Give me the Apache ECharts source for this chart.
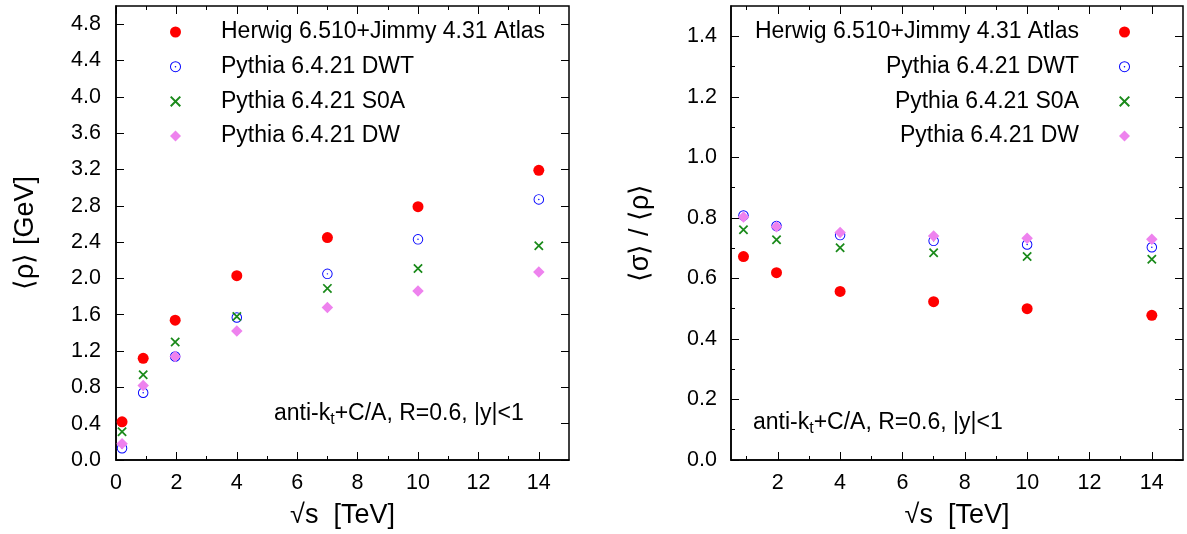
<!DOCTYPE html>
<html><head><meta charset="utf-8">
<script src="https://cdn.jsdelivr.net/npm/echarts@6/dist/echarts.min.js"></script>
<style>html,body{margin:0;padding:0;background:#fff}#c{width:1187px;height:534px}</style>
</head><body><div id="c"></div>
<script>
// ---------- data ----------
const seriesNames = ['Herwig 6.510+Jimmy 4.31 Atlas', 'Pythia 6.4.21 DWT', 'Pythia 6.4.21 S0A', 'Pythia 6.4.21 DW'];
const energiesLeft = [0.2, 0.9, 1.96, 4, 7, 10, 14];
const rhoHerwig = [0.42, 1.12, 1.54, 2.03, 2.45, 2.79, 3.19];
const rhoDWT    = [0.13, 0.74, 1.14, 1.57, 2.05, 2.43, 2.87];
const rhoS0A    = [0.31, 0.94, 1.30, 1.58, 1.89, 2.11, 2.36];
const rhoDW     = [0.18, 0.82, 1.14, 1.42, 1.68, 1.86, 2.07];
const energiesRight = [0.9, 1.96, 4, 7, 10, 14];
const ratioHerwig = [0.672, 0.619, 0.557, 0.523, 0.500, 0.478];
const ratioDWT    = [0.808, 0.773, 0.743, 0.724, 0.712, 0.703];
const ratioS0A    = [0.761, 0.728, 0.701, 0.685, 0.672, 0.663];
const ratioDW     = [0.803, 0.771, 0.752, 0.740, 0.733, 0.729];
const xTicksLeft = [0, 2, 4, 6, 8, 10, 12, 14];
const xMinorLeft = [1, 3, 5, 7, 9, 11, 13];
const xTicksRight = [2, 4, 6, 8, 10, 12, 14];
const xMinorRight = [1, 3, 5, 7, 9, 11, 13];
const yTicksLeft = [0, 0.4, 0.8, 1.2, 1.6, 2.0, 2.4, 2.8, 3.2, 3.6, 4.0, 4.4, 4.8];
const yTicksRight = [0, 0.2, 0.4, 0.6, 0.8, 1.0, 1.2, 1.4];
const yMinorRight = [0.1, 0.3, 0.5, 0.7, 0.9, 1.1, 1.3];
const xTitle = '√s  [TeV]';
const yTitleLeft = '⟨ρ⟩ [GeV]';
const yTitleRight = '⟨σ⟩ / ⟨ρ⟩';
const noteText = ['anti-k', 't', '+C/A, R=0.6, |y|<1'];

// ---------- styles ----------
const FONT = 'Liberation Sans, Arial, Helvetica, sans-serif';
const colors = ['#ff0000', '#0000ff', '#1a8a1a', '#ee82ee'];
const ringPath = 'path://M10,0 A10,10 0 1,1 10,20 A10,10 0 1,1 10,0 Z M10,1.8 A8.2,8.2 0 1,0 10,18.2 A8.2,8.2 0 1,0 10,1.8 Z M10,8.6 A1.4,1.4 0 1,1 10,11.4 A1.4,1.4 0 1,1 10,8.6 Z';
const crossPath = 'path://M0,1.3 L1.3,0 L10,8.7 L8.7,10 Z M8.7,0 L10,1.3 L1.3,10 L0,8.7 Z';
const symbols = ['circle', ringPath, crossPath, 'diamond'];
const sizes = [11, 10.5, 9.5, 11.5];

const grids = [
  {left: 116, top: 6, width: 453, height: 454, show: true, borderColor: '#000', borderWidth: 1.5},
  {left: 731, top: 6, width: 452, height: 454, show: true, borderColor: '#000', borderWidth: 1.5}
];

function axis(grid, pos, min, max, opts) {
  const o = {
    type: 'value', gridIndex: grid, position: pos, min: min, max: max,
    splitLine: {show: false},
    axisLine: {show: !!opts.line, onZero: false, lineStyle: {color: '#000', width: 1.5}},
    axisTick: {show: true, inside: true, length: opts.len, customValues: opts.ticks, lineStyle: {color: '#000', width: 1}},
    axisLabel: {show: false}
  };
  if (opts.labels) {
    o.axisLabel = {show: true, customValues: opts.labels, color: '#000', fontFamily: FONT, fontSize: 21.5,
      margin: opts.margin, formatter: opts.fmt};
  }
  if (opts.name) {
    o.name = opts.name; o.nameLocation = 'middle'; o.nameGap = opts.nameGap;
    o.nameTextStyle = {color: '#000', fontFamily: FONT, fontSize: 27};
  }
  return o;
}
const fmtInt = v => String(Math.round(v));
const fmt1 = v => v.toFixed(1);

const xAxes = [
  axis(0, 'bottom', 0, 15, {line: true, len: 8, ticks: xTicksLeft, labels: xTicksLeft, margin: 12, fmt: fmtInt, name: xTitle, nameGap: 42}),
  axis(0, 'bottom', 0, 15, {len: 4, ticks: xMinorLeft}),
  axis(0, 'top', 0, 15, {len: 8, ticks: xTicksLeft}),
  axis(0, 'top', 0, 15, {len: 4, ticks: xMinorLeft}),
  axis(1, 'bottom', 0.5, 15, {line: true, len: 8, ticks: xTicksRight, labels: xTicksRight, margin: 12, fmt: fmtInt, name: xTitle, nameGap: 42}),
  axis(1, 'bottom', 0.5, 15, {len: 4, ticks: xMinorRight}),
  axis(1, 'top', 0.5, 15, {len: 8, ticks: xTicksRight}),
  axis(1, 'top', 0.5, 15, {len: 4, ticks: xMinorRight})
];
const yAxes = [
  axis(0, 'left', 0, 5, {line: true, len: 8, ticks: yTicksLeft, labels: yTicksLeft, margin: 15, fmt: fmt1, name: yTitleLeft, nameGap: 77}),
  axis(0, 'right', 0, 5, {len: 8, ticks: yTicksLeft}),
  axis(1, 'left', 0, 1.5, {line: true, len: 8, ticks: yTicksRight, labels: yTicksRight, margin: 14, fmt: fmt1, name: yTitleRight, nameGap: 77}),
  axis(1, 'left', 0, 1.5, {len: 4, ticks: yMinorRight}),
  axis(1, 'right', 0, 1.5, {len: 8, ticks: yTicksRight}),
  axis(1, 'right', 0, 1.5, {len: 4, ticks: yMinorRight})
];

function zip(xs, ys) { return xs.map((x, i) => [x, ys[i]]); }
const leftVals = [rhoHerwig, rhoDWT, rhoS0A, rhoDW];
const rightVals = [ratioHerwig, ratioDWT, ratioS0A, ratioDW];
const series = [];
seriesNames.forEach((name, i) => {
  series.push({type: 'scatter', name: name, xAxisIndex: 0, yAxisIndex: 0, data: zip(energiesLeft, leftVals[i]),
    symbol: symbols[i], symbolSize: sizes[i], itemStyle: {color: colors[i], opacity: 1}, silent: true, z: 2 + i});
});
seriesNames.forEach((name, i) => {
  series.push({type: 'scatter', name: name, xAxisIndex: 4, yAxisIndex: 2, data: zip(energiesRight, rightVals[i]),
    symbol: symbols[i], symbolSize: sizes[i], itemStyle: {color: colors[i], opacity: 1}, silent: true, z: 2 + i});
});

const legendText = {color: '#000', fontFamily: FONT, fontSize: 23, lineHeight: 26};
const noteRich = {
  n: {fontFamily: FONT, fontSize: 23, fill: '#000', lineHeight: 28, verticalAlign: 'middle'},
  s: {fontFamily: FONT, fontSize: 16, fill: '#000', lineHeight: 28, padding: [13, 0, 0, 0], verticalAlign: 'middle'}
};
const noteStr = '{n|' + noteText[0] + '}{s|' + noteText[1] + '}{n|' + noteText[2] + '}';
const option = {
  animation: false,
  backgroundColor: '#fff',
  grid: grids,
  xAxis: xAxes,
  yAxis: yAxes,
  series: series,
  legend: [
    {orient: 'vertical', left: 170, top: 19, padding: 0, itemGap: 8.7, itemWidth: 11, itemHeight: 11,
     selectedMode: false, align: 'left', data: seriesNames,
     textStyle: Object.assign({padding: [0, 0, 0, 35]}, legendText)},
    {orient: 'vertical', right: 57, top: 19, padding: 0, itemGap: 8.7, itemWidth: 11, itemHeight: 11,
     selectedMode: false, align: 'right', data: seriesNames,
     textStyle: Object.assign({padding: [0, 35, 0, 0]}, legendText)}
  ],
  graphic: [
    {type: 'text', left: 274, top: 399, silent: true, style: {text: noteStr, rich: noteRich}},
    {type: 'text', left: 753, top: 408, silent: true, style: {text: noteStr, rich: noteRich}}
  ]
};
const chart = echarts.init(document.getElementById('c'), null, {renderer: 'canvas'});
chart.setOption(option);
</script></body></html>
